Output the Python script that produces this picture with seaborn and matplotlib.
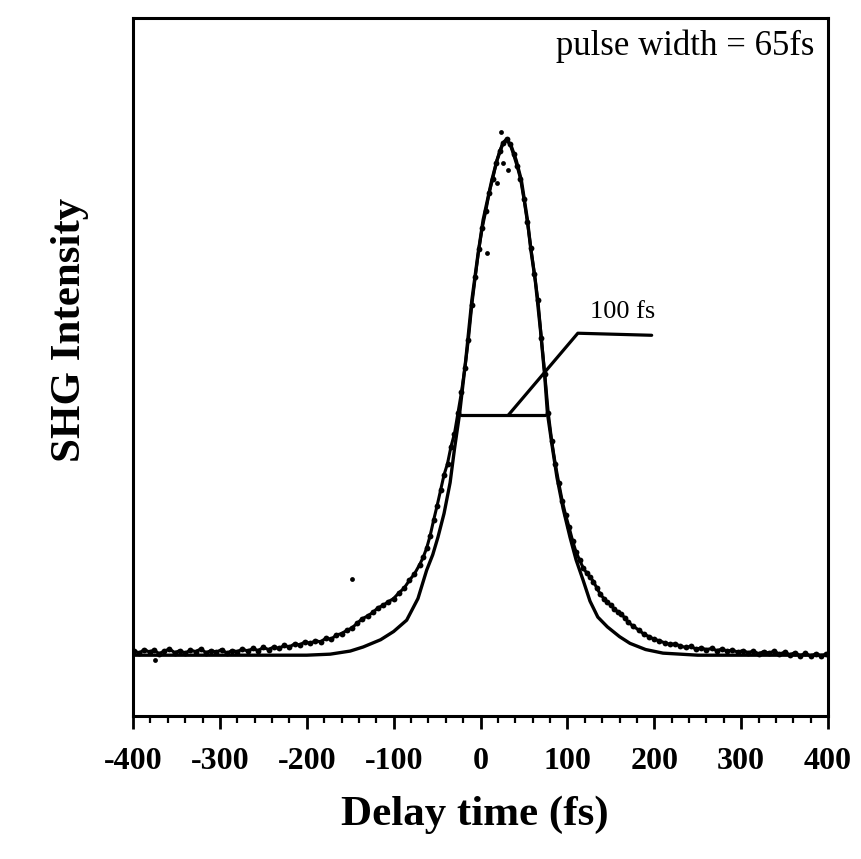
import numpy as np
import matplotlib
matplotlib.use('Agg')
import matplotlib.pyplot as plt
from matplotlib.ticker import MultipleLocator
import seaborn as sns

# Fitted sech^2 curve (delay in fs, normalised SHG intensity)
fit_x = [-400, -300, -200, -173, -150, -135, -115, -100, -85, -72, -62, -55, -49,
         -42, -35, -30, -24, -17, -10, -3, 3, 13, 19, 25, 30, 35, 41, 47, 54, 58,
         63, 69, 74, 77, 83, 88, 95, 103, 110, 118, 126, 135, 146, 160, 172, 190,
         210, 250, 300, 400]
fit_y = [0.000, 0.000, 0.000, 0.002, 0.008, 0.016, 0.030, 0.046, 0.068, 0.110,
         0.165, 0.195, 0.229, 0.275, 0.335, 0.400, 0.470, 0.573, 0.689, 0.777,
         0.845, 0.922, 0.961, 0.990, 1.000, 0.990, 0.961, 0.922, 0.845, 0.786,
         0.728, 0.631, 0.540, 0.470, 0.400, 0.345, 0.285, 0.229, 0.185, 0.146,
         0.105, 0.074, 0.055, 0.036, 0.023, 0.011, 0.004, 0.000, 0.000, 0.000]

# Measured autocorrelation trace
data_x = [-399, -393, -387, -381, -376, -370, -364, -358, -352, -346, -340, -334,
          -328, -322, -316, -310, -304, -298, -292, -286, -280, -274, -268, -262,
          -256, -250, -244, -238, -232, -226, -220, -214, -208, -202, -196, -190,
          -184, -178, -172, -166, -160, -154, -148, -142, -136, -130, -124, -118,
          -112, -106, -100, -94, -88, -82, -76, -70, -66, -62, -58, -54, -50, -46,
          -42, -38, -34, -30, -26, -22, -18, -14, -10, -6, -2, 2, 6, 10, 14, 18,
          22, 26, 30, 34, 38, 42, 46, 50, 54, 58, 62, 66, 70, 74, 78, 82, 86, 90,
          94, 98, 102, 106, 110, 114, 118, 122, 126, 130, 134, 138, 142, 146, 150,
          154, 158, 162, 166, 170, 176, 182, 188, 194, 200, 206, 212, 218, 224,
          230, 236, 242, 248, 254, 260, 266, 272, 278, 284, 290, 296, 302, 308,
          314, 320, 326, 332, 338, 344, 350, 356, 362, 368, 374, 380, 386, 392, 398]
data_y = [0.009, 0.004, 0.011, 0.006, 0.010, 0.003, 0.008, 0.012, 0.005, 0.009,
          0.004, 0.010, 0.007, 0.012, 0.005, 0.009, 0.006, 0.011, 0.004, 0.009,
          0.007, 0.012, 0.008, 0.013, 0.009, 0.015, 0.011, 0.016, 0.013, 0.019,
          0.016, 0.022, 0.020, 0.026, 0.023, 0.028, 0.026, 0.033, 0.031, 0.039,
          0.042, 0.048, 0.053, 0.062, 0.071, 0.076, 0.083, 0.092, 0.097, 0.104,
          0.110, 0.121, 0.130, 0.145, 0.158, 0.176, 0.190, 0.208, 0.232, 0.262,
          0.290, 0.320, 0.350, 0.372, 0.405, 0.430, 0.470, 0.510, 0.558, 0.612,
          0.680, 0.735, 0.788, 0.830, 0.862, 0.898, 0.925, 0.955, 0.978, 0.995,
          1.002, 0.992, 0.972, 0.950, 0.925, 0.885, 0.840, 0.790, 0.740, 0.690,
          0.615, 0.545, 0.470, 0.415, 0.372, 0.335, 0.300, 0.272, 0.248, 0.222,
          0.200, 0.185, 0.170, 0.160, 0.152, 0.143, 0.130, 0.118, 0.110, 0.103,
          0.097, 0.090, 0.084, 0.079, 0.073, 0.064, 0.056, 0.049, 0.041, 0.036,
          0.031, 0.028, 0.024, 0.021, 0.022, 0.018, 0.015, 0.017, 0.012, 0.014,
          0.011, 0.013, 0.009, 0.012, 0.008, 0.010, 0.006, 0.009, 0.005, 0.008,
          0.003, 0.007, 0.004, 0.008, 0.002, 0.006, 0.001, 0.005, -0.001, 0.004,
          -0.002, 0.003, -0.001, 0.002]

# isolated points off the trace
stray_x = [23, 26, 32, 19, 7, -148, -375]
stray_y = [1.016, 0.955, 0.942, 0.917, 0.780, 0.148, -0.010]

# FWHM marker and leader to the label
fwhm_x = [-23, 74]
fwhm_y = [0.466, 0.466]
leader_x = [32, 112, 197]
leader_y = [0.466, 0.625, 0.621]

sns.set_style('white')
plt.rcParams['font.family'] = ['Liberation Serif', 'DejaVu Serif']
plt.rcParams['axes.unicode_minus'] = False
plt.rcParams['text.color'] = 'black'
plt.rcParams['xtick.color'] = 'black'
plt.rcParams['axes.labelcolor'] = 'black'

fig = plt.figure(figsize=(8.62, 8.59), dpi=100)
ax = fig.add_axes([0.1543, 0.1665, 0.8063, 0.8126])

sns.lineplot(x=fit_x, y=fit_y, color='black', linewidth=2.4, sort=False, ax=ax)
sns.lineplot(x=data_x, y=data_y, color='black', linewidth=2.2, sort=False,
             marker='o', markersize=4.2, markeredgewidth=0, ax=ax)
sns.scatterplot(x=stray_x, y=stray_y, color='black', s=12, linewidth=0, ax=ax)

ax.plot(fwhm_x, fwhm_y, color='black', linewidth=2.3)
ax.plot(leader_x, leader_y, color='black', linewidth=2.3)
ax.text(126, 0.654, '100 fs', fontsize=19, ha='left', va='baseline')
ax.text(0.981, 0.947, 'pulse width = 65fs', transform=ax.transAxes,
        fontsize=25, ha='right', va='baseline')

ax.set_xlim(-400, 400)
ax.set_ylim(-0.118, 1.237)
ax.xaxis.set_major_locator(MultipleLocator(100))
ax.xaxis.set_minor_locator(MultipleLocator(20))
ax.set_yticks([])
ax.tick_params(axis='x', which='major', direction='out', length=9, width=2.0,
               bottom=True, pad=13, labelsize=23)
ax.tick_params(axis='x', which='minor', direction='out', length=5, width=1.6,
               bottom=True)
for lbl in ax.get_xticklabels():
    lbl.set_fontweight('bold')
for side in ['left', 'right', 'top', 'bottom']:
    ax.spines[side].set_visible(True)
    ax.spines[side].set_color('black')
    ax.spines[side].set_linewidth(2.2)

ax.set_xlabel('Delay time (fs)', fontsize=31, fontweight='bold', va='center')
ax.xaxis.set_label_coords(0.492, -0.142)
ax.set_ylabel('SHG Intensity', fontsize=31, fontweight='bold', va='center')
ax.yaxis.set_label_coords(-0.09, 0.553)

fig.savefig('out.png', dpi=100)
